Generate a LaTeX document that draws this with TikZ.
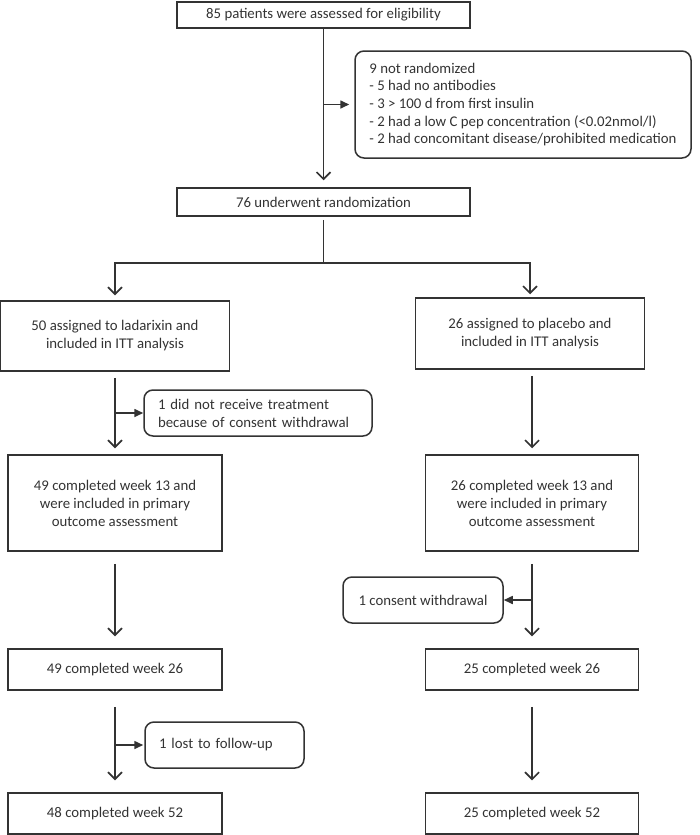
\documentclass[tikz,border=0pt]{standalone}
\usepackage{fontspec}
\setmainfont{Carlito}
\usetikzlibrary{arrows.meta}
\definecolor{ink}{HTML}{333333}
\begin{document}
\begin{tikzpicture}[x=1pt,y=-1pt,
  box/.style={draw=ink, line width=1.5pt, text=ink, align=center, inner sep=0pt, font=\fontsize{14.8}{18}\selectfont},
  rbox/.style={box, rounded corners=9pt, align=left},
  main/.style={draw=ink, line width=1.6pt, -{Straight Barb[length=7pt,width=14pt,line width=1.6pt]}},
  plain/.style={draw=ink, line width=1.6pt},
  side/.style={draw=ink, line width=1.6pt, -{Triangle[length=9pt,width=8pt]}}]
\useasboundingbox (0,0) rectangle (700,835);

\node[box, minimum width=293pt, minimum height=26pt] (b1) at (323.5,15) {85 patients were assessed for eligibility};
\node[rbox, minimum width=336pt, minimum height=107pt, font=\fontsize{14.8}{17.6}\selectfont] (excl) at (523,104.5)
  {9 not randomized\\- 5 had no antibodies\\- 3 > 100 d from first insulin\\- 2 had a low C pep concentration (<0.02nmol/l)\\- 2 had concomitant disease/prohibited medication};
\node[box, minimum width=293pt, minimum height=28pt] (b2) at (323.5,202) {76 underwent randomization};
\coordinate (split) at (323.5,263);

\node[box, minimum width=229pt, minimum height=70pt] (L1) at (115,336) {50 assigned to ladarixin and\\included in ITT analysis};
\node[box, minimum width=229pt, minimum height=71pt] (R1) at (530,333.5) {26 assigned to placebo and\\included in ITT analysis};

\node[rbox, minimum width=228pt, minimum height=46pt, text width=200pt] (nt) at (258,413) {1 did not receive treatment\\because of consent withdrawal};

\node[box, minimum width=214pt, minimum height=96pt] (L2) at (115,503) {49 completed week 13 and\\were included in primary\\outcome assessment};
\node[box, minimum width=213pt, minimum height=96pt] (R2) at (532,503) {26 completed week 13 and\\were included in primary\\outcome assessment};

\node[rbox, minimum width=160pt, minimum height=46pt, align=center] (cw) at (423,600) {1 consent withdrawal};

\node[box, minimum width=214pt, minimum height=41pt] (L3) at (115,669.5) {49 completed week 26};
\node[box, minimum width=213pt, minimum height=41pt] (R3) at (532,669.5) {25 completed week 26};

\node[rbox, minimum width=159pt, minimum height=46pt, text width=131pt] (lf) at (224.5,745) {1 lost to follow-up};

\node[box, minimum width=214pt, minimum height=41pt] (L4) at (115,813.5) {48 completed week 52};
\node[box, minimum width=213pt, minimum height=41pt] (R4) at (532,813.5) {25 completed week 52};

% connectors
\draw[main, shorten >=7pt] (b1.south) -- (b2.north);
\draw[side, shorten >=5pt] (b1.south |- excl.west) -- (excl.west);
\draw[plain, shorten <=3pt] (b2.south) -- (split);
\draw[main, shorten >=5pt] (split) -| (L1.north);
\draw[main, shorten >=3pt] (split) -| (R1.north);

\draw[main, shorten <=6pt, shorten >=6pt] (L1.south) -- (L2.north);
\draw[side] (L1.south |- nt.west) -- (nt.west);
\draw[main, shorten <=6pt, shorten >=6pt] (R2.north |- R1.south) -- (R2.north);

\draw[main, shorten <=12pt, shorten >=12pt] (L2.south) -- (L3.north);
\draw[main, shorten <=12pt, shorten >=12pt] (R2.south) -- (R3.north);
\draw[side] (R2.south |- cw.east) -- (cw.east);

\draw[main, shorten <=16pt, shorten >=12pt] (L3.south) -- (L4.north);
\draw[side, shorten >=1pt] (L3.south |- lf.west) -- (lf.west);
\draw[main, shorten <=16pt, shorten >=12pt] (R3.south) -- (R4.north);
\end{tikzpicture}
\end{document}
